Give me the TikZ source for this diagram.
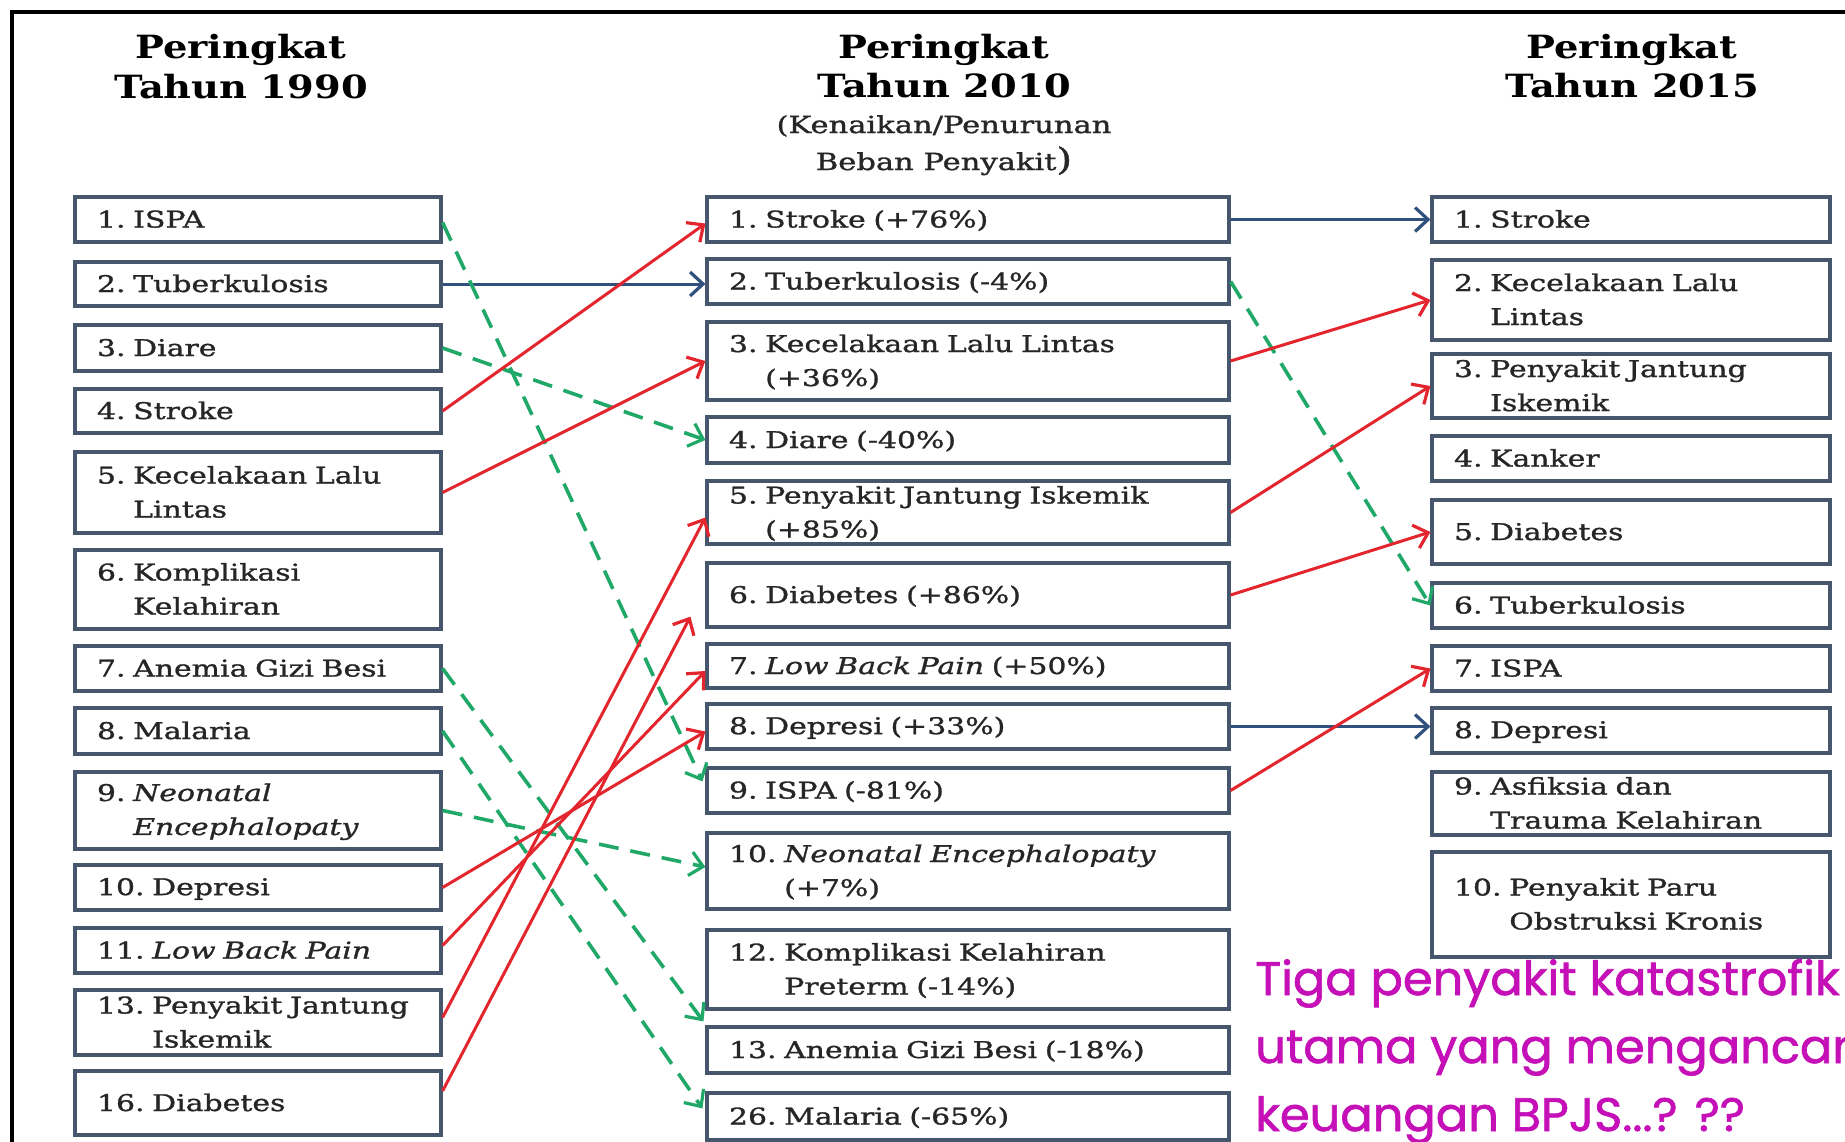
\documentclass[tikz,border=0pt]{standalone}
\usepackage{fontspec}
\setmainfont[FakeStretch=1.3,FakeBold=1.2]{DejaVu Serif}
\newfontfamily\titlefont[FakeStretch=1.2]{DejaVu Serif}
\newfontfamily\handfont[FakeStretch=1.02,FakeBold=1.4]{Poppins}
\usetikzlibrary{arrows.meta,calc}
\definecolor{boxc}{HTML}{46566C}
\definecolor{txtc}{HTML}{262626}
\definecolor{redc}{HTML}{E3262E}
\definecolor{bluec}{HTML}{30507E}
\definecolor{greenc}{HTML}{1FA868}
\definecolor{handc}{HTML}{C510B8}
\newcommand\sv{\rule[-4pt]{0pt}{24pt}}
\tikzset{
  box/.style={draw=boxc, line width=3.2pt, fill=white, rectangle, inner xsep=22pt, inner ysep=0pt,
    align=left, text=txtc, font=\fontsize{23}{34}\selectfont\frenchspacing},
  lbox/.style={box, text width=322pt},
  mbox/.style={box, text width=478pt},
  rbox/.style={box, text width=354pt},
  ttl/.style={anchor=base, inner sep=0pt, text=black, font=\titlefont\bfseries\fontsize{32}{40}\selectfont},
  sub/.style={anchor=base, inner sep=0pt, text=txtc, font=\fontsize{23.5}{30}\selectfont},
  hand/.style={anchor=base west, inner sep=0pt, text=handc, font=\handfont\fontsize{47}{60}\selectfont},
  tip/.style={-{Straight Barb[length=13pt,width=24pt,line width=3.2pt]}},
  redarr/.style={draw=redc, line width=3pt, tip},
  bluearr/.style={draw=bluec, line width=3pt, tip},
  greenarr/.style={draw=greenc, line width=3.6pt, dash pattern=on 20pt off 12pt, tip}
}
\begin{document}
\begin{tikzpicture}[x=1pt,y=-1pt]
\useasboundingbox (0,0) rectangle (1845,1141);
\clip (0,0) rectangle (1845,1141);
\fill[white] (0,0) rectangle (1845,1141);
\draw[line width=4pt, black] (12,1160) -- (12,12) -- (1860,12);

% titles
\node[ttl] (t1a) at (241,58) {Peringkat};
\node[ttl] (t1b) at (241,98) {Tahun 1990};
\node[ttl] (t2a) at (944,58) {Peringkat};
\node[ttl] (t2b) at (944,97) {Tahun 2010};
\node[sub] (t2c) at (944,133) {(Kenaikan/Penurunan};
\node[sub] (t2d) at (944,170) {Beban Penyakit{\fontsize{31}{31}\selectfont)}};
\node[ttl] (t3a) at (1632,58) {Peringkat};
\node[ttl] (t3b) at (1632,97) {Tahun 2015};

% left column (1990)
\node[lbox, minimum height=45pt] (l1) at (258,219.5) {\sv 1. ISPA};
\node[lbox, minimum height=44pt] (l2) at (258,284) {\sv 2. Tuberkulosis};
\node[lbox, minimum height=46pt] (l3) at (258,348) {\sv 3. Diare};
\node[lbox, minimum height=44pt] (l4) at (258,411) {\sv 4. Stroke};
\node[lbox, minimum height=81pt] (l5) at (258,492.5) {\sv 5. Kecelakaan Lalu\\\sv\phantom{5. }Lintas};
\node[lbox, minimum height=79pt] (l6) at (258,589.5) {\sv 6. Komplikasi\\\sv\phantom{6. }Kelahiran};
\node[lbox, minimum height=45pt] (l7) at (258,668.5) {\sv 7. Anemia Gizi Besi};
\node[lbox, minimum height=46pt] (l8) at (258,731) {\sv 8. Malaria};
\node[lbox, minimum height=77pt] (l9) at (258,810.5) {\sv 9. \textit{Neonatal}\\\sv\phantom{9. }\textit{Encephalopaty}};
\node[lbox, minimum height=45pt] (l10) at (258,887.5) {\sv 10. Depresi};
\node[lbox, minimum height=45pt] (l11) at (258,950.5) {\sv 11. \textit{Low Back Pain}};
\node[lbox, minimum height=65pt] (l13) at (258,1022.5) {\sv 13. Penyakit Jantung\\\sv\phantom{13. }Iskemik};
\node[lbox, minimum height=64pt] (l16) at (258,1103) {\sv 16. Diabetes};

% middle column (2010)
\node[mbox, minimum height=45pt] (m1) at (968,219.5) {\sv 1. Stroke (+76\%)};
\node[mbox, minimum height=45pt] (m2) at (968,281.5) {\sv 2. Tuberkulosis (-4\%)};
\node[mbox, minimum height=78pt] (m3) at (968,361) {\sv 3. Kecelakaan Lalu Lintas\\\sv\phantom{3. }(+36\%)};
\node[mbox, minimum height=46pt] (m4) at (968,440) {\sv 4. Diare (-40\%)};
\node[mbox, minimum height=63pt] (m5) at (968,512.5) {\sv 5. Penyakit Jantung Iskemik\\\sv\phantom{5. }(+85\%)};
\node[mbox, minimum height=64pt] (m6) at (968,595) {\sv 6. Diabetes (+86\%)};
\node[mbox, minimum height=44pt] (m7) at (968,666) {\sv 7. \textit{Low Back Pain} (+50\%)};
\node[mbox, minimum height=45pt] (m8) at (968,726.5) {\sv 8. Depresi (+33\%)};
\node[mbox, minimum height=45pt] (m9) at (968,790.5) {\sv 9. ISPA (-81\%)};
\node[mbox, minimum height=76pt] (m10) at (968,871) {\sv 10. \textit{Neonatal Encephalopaty}\\\sv\phantom{10. }(+7\%)};
\node[mbox, minimum height=79pt] (m12) at (968,969.5) {\sv 12. Komplikasi Kelahiran\\\sv\phantom{12. }Preterm (-14\%)};
\node[mbox, minimum height=46pt] (m13) at (968,1050) {\sv 13. Anemia Gizi Besi (-18\%)};
\node[mbox, minimum height=47pt] (m26) at (968,1116.5) {\sv 26. Malaria (-65\%)};

% right column (2015)
\node[rbox, minimum height=45pt] (r1) at (1631,219.5) {\sv 1. Stroke};
\node[rbox, minimum height=80pt] (r2) at (1631,300) {\sv 2. Kecelakaan Lalu\\\sv\phantom{2. }Lintas};
\node[rbox, minimum height=64pt] (r3) at (1631,386) {\sv 3. Penyakit Jantung\\\sv\phantom{3. }Iskemik};
\node[rbox, minimum height=45pt] (r4) at (1631,458.5) {\sv 4. Kanker};
\node[rbox, minimum height=64pt] (r5) at (1631,532) {\sv 5. Diabetes};
\node[rbox, minimum height=45pt] (r6) at (1631,605.5) {\sv 6. Tuberkulosis};
\node[rbox, minimum height=45pt] (r7) at (1631,668.5) {\sv 7. ISPA};
\node[rbox, minimum height=45pt] (r8) at (1631,730.5) {\sv 8. Depresi};
\node[rbox, minimum height=63pt] (r9) at (1631,803.5) {\sv 9. Asfiksia dan\\\sv\phantom{9. }Trauma Kelahiran};
\node[rbox, minimum height=105pt] (r10) at (1631,904.5) {\sv 10. Penyakit Paru\\\sv\phantom{10. }Obstruksi Kronis};

% blue connectors
\draw[bluearr] (l2.east) -- (l2.east -| m2.west);
\draw[bluearr] (m1.east) -- (r1.west);
\draw[bluearr] (m8.east) -- (m8.east -| r8.west);

% green dashed connectors
\draw[greenarr] ($(l1.east)+(0,3)$) -- ($(m9.north west)+(-3,15)$);
\draw[greenarr] (l3.east) -- (m4.west);
\draw[greenarr] (l7.east) -- ($(m13.north west)+(-2,-4)$);
\draw[greenarr] (l8.east) -- ($(m26.north west)+(-3,17)$);
\draw[greenarr] (l9.east) -- ($(m10.west)+(0,-4)$);
\draw[greenarr] (m2.east) -- (r6.west);

% red connectors
\draw[redarr] (l4.east) -- ($(m1.west)+(0,4)$);
\draw[redarr] (l5.east) -- (m3.west);
\draw[redarr] (l10.east) -- ($(m8.west)+(0,5)$);
\draw[redarr] ($(l11.east)+(0,-5)$) -- ($(m7.west)+(0,5)$);
\draw[redarr] ($(l13.east)+(0,-5)$) -- ($(m5.west)+(0,5)$);
\draw[redarr] ($(l16.east)+(0,-12)$) -- ($(m6.south west)+(-15,-12)$);
\draw[redarr] (m3.east) -- (r2.west);
\draw[redarr] (m5.east) -- (r3.west);
\draw[redarr] (m6.east) -- (r5.west);
\draw[redarr] (m9.east) -- (r7.west);

% handwritten remark (cut off at the right edge, as in the source)
\node[hand] (h1) at (1255,995) {Tiga penyakit katastrofik};
\node[hand] (h2) at (1255,1063) {utama yang mengancam};
\node[hand] (h3) at (1255,1131) {keuangan BPJS...? ??};
\end{tikzpicture}
\end{document}
